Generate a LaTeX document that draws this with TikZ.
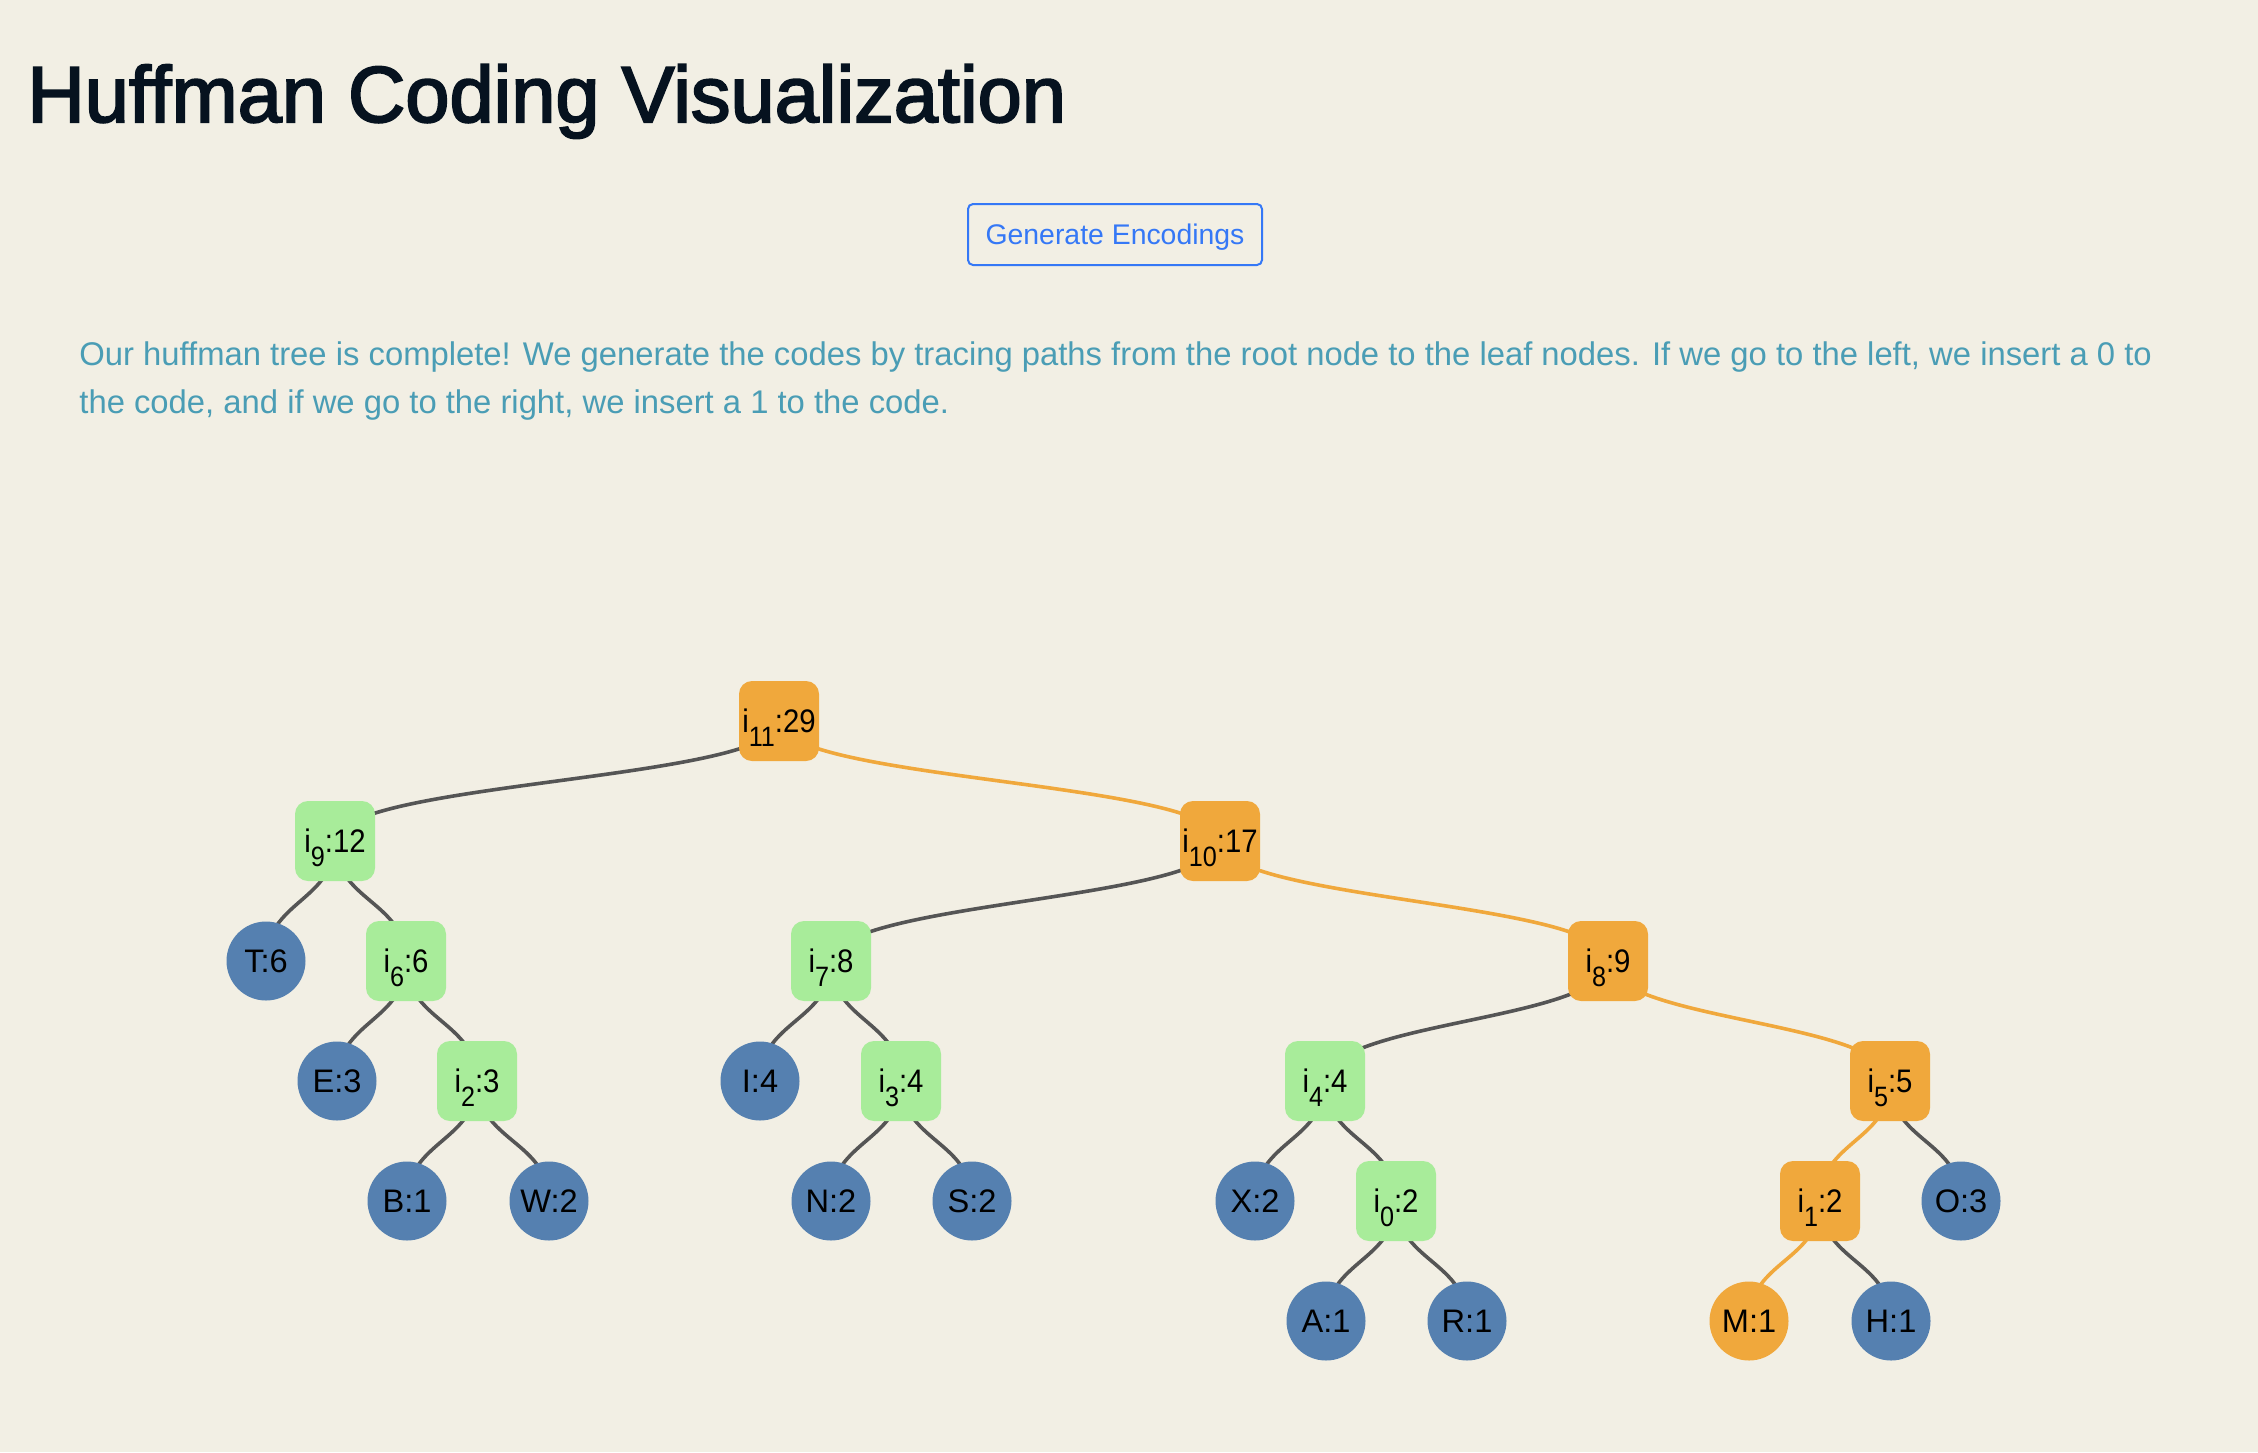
\documentclass[tikz,border=0pt]{standalone}
\usepackage{fontspec}
\setmainfont{Liberation Sans}
\usetikzlibrary{calc}
\definecolor{pagebg}{HTML}{F2EFE4}
\definecolor{titleink}{HTML}{06121F}
\definecolor{noteink}{HTML}{4A9DB5}
\definecolor{btnblue}{HTML}{3578F6}
\definecolor{hotorange}{HTML}{F0A83C}
\definecolor{innergreen}{HTML}{A8EC9A}
\definecolor{leafblue}{HTML}{5580B0}
\definecolor{edgegray}{HTML}{555555}
\pgfdeclarelayer{back}
\pgfsetlayers{back,main}
\newcommand\isub[2]{i\raisebox{-7pt}[0pt][0pt]{\fontsize{14}{14}\selectfont\addfontfeatures{FakeStretch=0.9}#1}:#2}
\begin{document}
\begin{tikzpicture}[x=0.5pt,y=-0.5pt,
  inner/.style={rectangle,rounded corners=6.5pt,minimum size=40pt,inner sep=0pt,fill=innergreen,font=\fontsize{16.3}{19}\selectfont\addfontfeatures{FakeStretch=0.9}},
  leaf/.style={circle,minimum size=39.5pt,inner sep=0pt,fill=leafblue,font=\fontsize{16.3}{19}\selectfont},
  hot/.style={fill=hotorange},
  edge/.style={line width=1.8pt,draw=edgegray},
  hotedge/.style={line width=1.8pt,draw=hotorange},
  note/.style={anchor=base west,inner sep=0pt,text=noteink,font=\fontsize{16.4}{20}\selectfont},
  button/.style={draw=btnblue,line width=1pt,rounded corners=2.5pt,text=btnblue,text depth=0pt,minimum width=147pt,minimum height=30.5pt,inner sep=0pt,font=\fontsize{14.2}{17}\selectfont}]
\useasboundingbox (0,0) rectangle (2258,1452);
\node[anchor=base west,inner sep=0pt,text=titleink,font=\fontsize{39.7}{46}\selectfont\addfontfeatures{FakeBold=2.5}] (title) at (27,122) {Huffman Coding Visualization};
\node[button] (gen) at (1115,234.5) {Generate Encodings};
\node[note] (line1) at (79,365) {Our huffman tree is complete! We generate the codes by tracing paths from the root node to the leaf nodes. If we go to the left, we insert a 0 to};
\node[note] (line2) at (79,413) {the code, and if we go to the right, we insert a 1 to the code.};

\node[inner,hot] (i11) at (779,721) {\isub{11}{29}};
\node[inner] (i9) at (335,841) {\isub{9}{12}};
\node[inner,hot] (i10) at (1220,841) {\isub{10}{17}};
\node[leaf] (T) at (266,961) {T:6};
\node[inner] (i6) at (406,961) {\isub{6}{6}};
\node[inner] (i7) at (831,961) {\isub{7}{8}};
\node[inner,hot] (i8) at (1608,961) {\isub{8}{9}};
\node[leaf] (E) at (337,1081) {E:3};
\node[inner] (i2) at (477,1081) {\isub{2}{3}};
\node[leaf] (I) at (760,1081) {I:4};
\node[inner] (i3) at (901,1081) {\isub{3}{4}};
\node[inner] (i4) at (1325,1081) {\isub{4}{4}};
\node[inner,hot] (i5) at (1890,1081) {\isub{5}{5}};
\node[leaf] (B) at (407,1201) {B:1};
\node[leaf] (W) at (549,1201) {W:2};
\node[leaf] (N) at (831,1201) {N:2};
\node[leaf] (S) at (972,1201) {S:2};
\node[leaf] (X) at (1255,1201) {X:2};
\node[inner] (i0) at (1396,1201) {\isub{0}{2}};
\node[inner,hot] (i1) at (1820,1201) {\isub{1}{2}};
\node[leaf] (O) at (1961,1201) {O:3};
\node[leaf] (A) at (1326,1321) {A:1};
\node[leaf] (R) at (1467,1321) {R:1};
\node[leaf,hot] (M) at (1749,1321) {M:1};
\node[leaf] (H) at (1891,1321) {H:1};

\begin{pgfonlayer}{back}
\fill[pagebg] (0,0) rectangle (2258,1452);
\foreach \a/\b in {i11/i9,i9/T,i9/i6,i6/E,i6/i2,i2/B,i2/W,i10/i7,i7/I,i7/i3,i3/N,i3/S,i8/i4,i4/X,i4/i0,i0/A,i0/R,i5/O,i1/H}
  \draw[edge] (\a.center) .. controls ($(\a.center)!.5!(\a.center|-\b.center)$) and ($(\b.center)!.5!(\b.center|-\a.center)$) .. (\b.center);
\foreach \a/\b in {i11/i10,i10/i8,i8/i5,i5/i1,i1/M}
  \draw[hotedge] (\a.center) .. controls ($(\a.center)!.5!(\a.center|-\b.center)$) and ($(\b.center)!.5!(\b.center|-\a.center)$) .. (\b.center);
\end{pgfonlayer}
\end{tikzpicture}
\end{document}
